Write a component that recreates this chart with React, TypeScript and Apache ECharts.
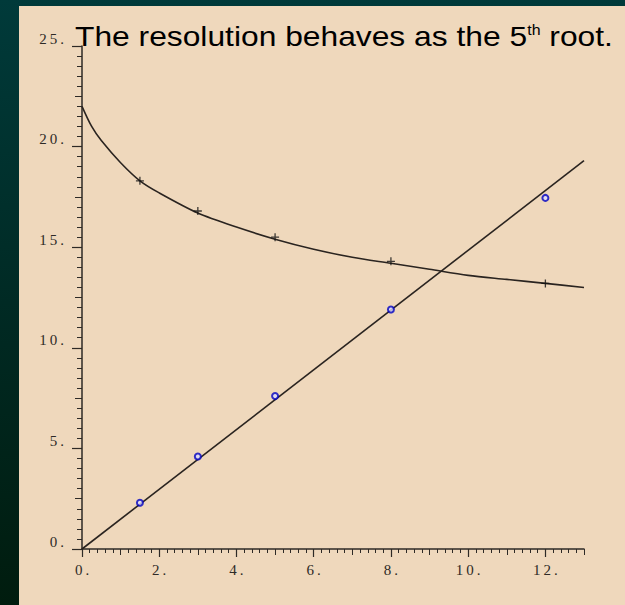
import React, { useEffect, useRef } from "react";
import * as echarts from "echarts";

// Curve (smooth decreasing curve)
const curveX = [0, 0.25, 0.5, 1, 1.5, 2, 3, 4, 5, 6, 7, 8, 9, 10, 11, 12, 13];
const curveY = [22.0, 21.0, 20.3, 19.2, 18.3, 17.7, 16.7, 16.0, 15.4, 14.9, 14.5, 14.2, 13.9, 13.6, 13.4, 13.2, 13.0];
// Straight line
const lineX = [0, 13];
const lineY = [0, 19.3];
// Cross markers
const crossX = [1.5, 3, 5, 8, 12];
const crossY = [18.3, 16.8, 15.5, 14.3, 13.2];
// Blue circle markers
const circleX = [1.5, 3, 5, 8, 12];
const circleY = [2.3, 4.6, 7.6, 11.9, 17.45];

const titleMain = "The resolution behaves as the 5";
const titleSup = "th";
const titleEnd = " root.";

const zip = (xs: number[], ys: number[]) => xs.map((x, i) => [x, ys[i]]);
const spaced = (v: number) => (String(v) + ".").split("").join("\u2009");

const AXIS = "#2e2a26";
const LABEL = "#2e2a26";
const SERIF = "'Liberation Serif', 'DejaVu Serif', serif";

export default function App() {
  const ref = useRef<HTMLDivElement>(null);
  useEffect(() => {
    if (!ref.current) return;
    const chart = echarts.init(ref.current, null, { renderer: "svg" });
    const labelStyle = { fontFamily: SERIF, fontSize: 15, color: LABEL };
    chart.setOption({
      animation: false,
      backgroundColor: "transparent",
      grid: { left: 82, right: 41, top: 46, bottom: 56, containLabel: false },
      graphic: [
        {
          type: "text",
          x: 75,
          y: 20,
          scaleX: 1.135,
          style: {
            text: `{a|${titleMain}}{s|${titleSup}}{a|${titleEnd}}`,
            verticalAlign: "top",
            rich: {
              a: { fontFamily: "'Liberation Sans', Arial, sans-serif", fontSize: 28, fill: "#000", lineHeight: 30, verticalAlign: "bottom" },
              s: { fontFamily: "'Liberation Sans', Arial, sans-serif", fontSize: 14, fill: "#000", lineHeight: 30, verticalAlign: "top", padding: [3, 0, 0, 0] },
            },
          },
        },
      ],
      xAxis: [
        {
          type: "value",
          min: 0,
          max: 13,
          interval: 2,
          position: "bottom",
          axisLine: { show: true, onZero: false, lineStyle: { color: AXIS, width: 1.5 } },
          axisTick: { show: true, length: 8, lineStyle: { color: AXIS, width: 1.2 } },
          splitLine: { show: false },
          axisLabel: { ...labelStyle, margin: 13, showMaxLabel: false, formatter: (v: number) => spaced(v) },
        },
        {
          type: "value",
          min: 0,
          max: 13,
          interval: 1,
          position: "bottom",
          axisLine: { show: false, onZero: false },
          axisTick: { show: true, length: 6, lineStyle: { color: AXIS, width: 1 } },
          minorTick: { show: true, splitNumber: 5, length: 4, lineStyle: { color: AXIS, width: 1 } },
          splitLine: { show: false },
          minorSplitLine: { show: false },
          axisLabel: { show: false },
        },
      ],
      yAxis: [
        {
          type: "value",
          min: 0,
          max: 25,
          interval: 5,
          position: "left",
          axisLine: { show: true, onZero: false, lineStyle: { color: AXIS, width: 1.5 } },
          axisTick: { show: true, length: 10, lineStyle: { color: AXIS, width: 1.2 } },
          splitLine: { show: false },
          axisLabel: { ...labelStyle, margin: 18, verticalAlign: "bottom", formatter: (v: number) => spaced(v) },
        },
        {
          type: "value",
          min: 0,
          max: 25,
          interval: 2.5,
          position: "left",
          axisLine: { show: false, onZero: false },
          axisTick: { show: true, length: 7, lineStyle: { color: AXIS, width: 1 } },
          minorTick: { show: true, splitNumber: 5, length: 5, lineStyle: { color: AXIS, width: 1 } },
          splitLine: { show: false },
          minorSplitLine: { show: false },
          axisLabel: { show: false },
        },
      ],
      series: [
        {
          type: "line",
          xAxisIndex: 0,
          yAxisIndex: 0,
          data: zip(curveX, curveY),
          smooth: 0.3,
          showSymbol: false,
          lineStyle: { color: "#2a2420", width: 1.6 },
        },
        {
          type: "line",
          xAxisIndex: 0,
          yAxisIndex: 0,
          data: zip(lineX, lineY),
          showSymbol: false,
          lineStyle: { color: "#2a2420", width: 1.6 },
        },
        {
          type: "scatter",
          xAxisIndex: 0,
          yAxisIndex: 0,
          data: zip(crossX, crossY),
          symbol: "path://M4 0V8M0 4H8",
          symbolSize: 8,
          itemStyle: { color: "transparent", borderColor: "#111", borderWidth: 1.3 },
          z: 5,
        },
        {
          type: "scatter",
          xAxisIndex: 0,
          yAxisIndex: 0,
          data: zip(circleX, circleY),
          symbol: "circle",
          symbolSize: 6,
          itemStyle: { color: "#dcdcff", borderColor: "#0000c0", borderWidth: 2 },
          z: 6,
        },
      ],
    });
    return () => chart.dispose();
  }, []);

  return (
    <div
      style={{
        position: "fixed",
        left: 0,
        top: 0,
        width: 625,
        height: 605,
        background: "linear-gradient(to bottom, #003a3a 0%, #002a24 50%, #001c0e 100%)",
      }}
    >
      <div style={{ position: "absolute", left: 19, top: 6, right: 0, bottom: 0, background: "#efd8bc" }} />
      <div ref={ref} style={{ position: "absolute", left: 0, top: 0, width: 625, height: 605 }} />
    </div>
  );
}
